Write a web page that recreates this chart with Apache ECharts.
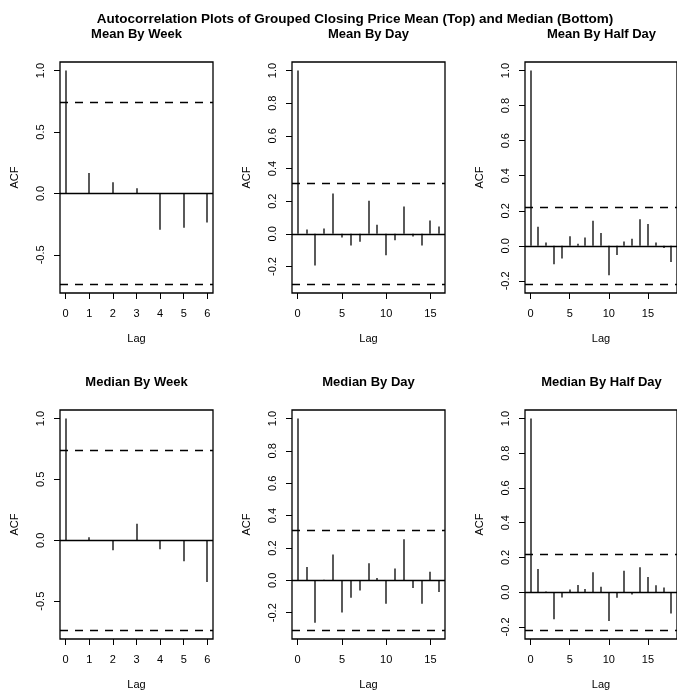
<!DOCTYPE html>
<html>
<head>
<meta charset="utf-8">
<script src="https://cdn.jsdelivr.net/npm/echarts@6/dist/echarts.min.js"></script>
<style>
  html, body { margin: 0; padding: 0; background: #fff; }
  #chart { width: 677px; height: 691px; }
</style>
</head>
<body>
<div id="chart"></div>
<script>
const mainTitle = 'Autocorrelation Plots of Grouped Closing Price Mean (Top) and Median (Bottom)';
const panelTitles = ['Mean By Week', 'Mean By Day', 'Mean By Half Day',
                     'Median By Week', 'Median By Day', 'Median By Half Day'];

// number of observations per grouping (sets the dashed 95% bounds, as in R's acf)
const sampleSizes = [7, 40, 79];

const lagsWeek = [0, 1, 2, 3, 4, 5, 6];
const lagsDay = [0, 1, 2, 3, 4, 5, 6, 7, 8, 9, 10, 11, 12, 13, 14, 15, 16];
const lagsHalfDay = [0, 1, 2, 3, 4, 5, 6, 7, 8, 9, 10, 11, 12, 13, 14, 15, 16, 17, 18];

const acfMeanWeek = [1.0, 0.166, 0.090, 0.043, -0.296, -0.280, -0.236];
const acfMeanDay = [1.0, 0.027, -0.194, 0.033, 0.247, -0.022, -0.071, -0.049, 0.202,
                    0.055, -0.131, -0.039, 0.167, -0.016, -0.071, 0.082, 0.045];
const acfMeanHalfDay = [1.0, 0.109, 0.019, -0.105, -0.073, 0.055, 0.011, 0.048, 0.143, 0.073,
                        -0.168, -0.053, 0.025, 0.040, 0.151, 0.124, 0.019, -0.013, -0.092];

const acfMedianWeek = [1.0, 0.025, -0.082, 0.136, -0.074, -0.172, -0.343];
const acfMedianDay = [1.0, 0.082, -0.262, 0.003, 0.160, -0.198, -0.108, -0.063, 0.106,
                      0.014, -0.145, 0.074, 0.254, -0.047, -0.145, 0.053, -0.072];
const acfMedianHalfDay = [1.0, 0.134, 0.004, -0.155, -0.031, 0.015, 0.042, 0.019, 0.115, 0.031,
                          -0.166, -0.032, 0.124, -0.013, 0.143, 0.088, 0.040, 0.027, -0.122];

const xTicksWeek = [0, 1, 2, 3, 4, 5, 6];
const xTicksDay = [0, 5, 10, 15];
const yTicksWeek = [-0.5, 0, 0.5, 1];
const yTicksDay = [-0.2, 0, 0.2, 0.4, 0.6, 0.8, 1];

const FONT = 'Liberation Sans, Arial, Helvetica, sans-serif';

const panels = [
  { lags: lagsWeek, acf: acfMeanWeek, n: sampleSizes[0], xt: xTicksWeek, yt: yTicksWeek },
  { lags: lagsDay, acf: acfMeanDay, n: sampleSizes[1], xt: xTicksDay, yt: yTicksDay },
  { lags: lagsHalfDay, acf: acfMeanHalfDay, n: sampleSizes[2], xt: xTicksDay, yt: yTicksDay },
  { lags: lagsWeek, acf: acfMedianWeek, n: sampleSizes[0], xt: xTicksWeek, yt: yTicksWeek },
  { lags: lagsDay, acf: acfMedianDay, n: sampleSizes[1], xt: xTicksDay, yt: yTicksDay },
  { lags: lagsHalfDay, acf: acfMedianHalfDay, n: sampleSizes[2], xt: xTicksDay, yt: yTicksDay },
];

const colLeft = [60, 292, 525];
const rowTop = [62, 410];
const boxW = 153, boxH = 231;

function renderStem(params, api) {
  const p0 = api.coord([api.value(0), 0]);
  const p1 = api.coord([api.value(0), api.value(1)]);
  const x = Math.round(p0[0]);
  return {
    type: 'line',
    shape: { x1: x, y1: p0[1], x2: x, y2: p1[1] },
    style: { stroke: '#000', lineWidth: 1.3 }
  };
}

const grids = [], xAxes = [], yAxes = [], series = [], graphics = [];

graphics.push({
  type: 'text', x: 355, y: 19,
  style: { text: mainTitle, font: 'bold 13.5px ' + FONT, fill: '#000', textAlign: 'center', textVerticalAlign: 'middle' }
});

panels.forEach((p, i) => {
  const left = colLeft[i % 3], top = rowTop[Math.floor(i / 3)];
  const ci = 1.96 / Math.sqrt(p.n);
  const maxLag = p.lags[p.lags.length - 1];
  // R pads the axis range by 4% on each side
  const yPad = 0.04 * (1 + ci);

  grids.push({ left: left, top: top, width: boxW, height: boxH, show: true,
               borderColor: '#000', borderWidth: 1.3, backgroundColor: 'transparent' });

  graphics.push({
    type: 'text', x: left + boxW / 2, y: top - 28,
    style: { text: panelTitles[i], font: 'bold 13px ' + FONT, fill: '#000', textAlign: 'center', textVerticalAlign: 'middle' }
  });

  xAxes.push({
    gridIndex: i, type: 'value', position: 'bottom',
    min: -0.04 * maxLag, max: maxLag * 1.04,
    name: 'Lag', nameLocation: 'middle', nameGap: 40,
    nameTextStyle: { fontFamily: FONT, fontSize: 11, color: '#000' },
    axisLine: { show: false, onZero: false },
    splitLine: { show: false },
    axisTick: { show: true, inside: false, length: 6, customValues: p.xt, lineStyle: { color: '#000', width: 1 } },
    axisLabel: { customValues: p.xt, margin: 15, fontFamily: FONT, fontSize: 11, color: '#000' }
  });

  yAxes.push({
    gridIndex: i, type: 'value', position: 'left',
    min: -ci - yPad, max: 1 + yPad,
    name: 'ACF', nameLocation: 'middle', nameGap: 40, nameRotate: 90,
    nameTextStyle: { fontFamily: FONT, fontSize: 11, color: '#000' },
    axisLine: { show: false, onZero: false },
    splitLine: { show: false },
    axisTick: { show: true, inside: false, length: 6, customValues: p.yt, lineStyle: { color: '#000', width: 1 } },
    axisLabel: { customValues: p.yt, rotate: 90, margin: 14, fontFamily: FONT, fontSize: 11, color: '#000',
                 formatter: v => Number(v).toFixed(1) }
  });

  series.push({
    type: 'custom', xAxisIndex: i, yAxisIndex: i,
    data: p.lags.map((l, k) => [l, p.acf[k]]),
    renderItem: renderStem,
    silent: true,
    markLine: {
      silent: true, symbol: ['none', 'none'], label: { show: false }, animation: false,
      data: [
        { yAxis: 0, lineStyle: { color: '#000', type: 'solid', width: 1.3 } },
        { yAxis: ci, lineStyle: { color: '#000', type: [8, 7], width: 1.3 } },
        { yAxis: -ci, lineStyle: { color: '#000', type: [8, 7], width: 1.3 } }
      ]
    }
  });
});

const chart = echarts.init(document.getElementById('chart'));
chart.setOption({
  animation: false,
  backgroundColor: '#fff',
  grid: grids,
  xAxis: xAxes,
  yAxis: yAxes,
  series: series,
  graphic: graphics
});
</script>
</body>
</html>
